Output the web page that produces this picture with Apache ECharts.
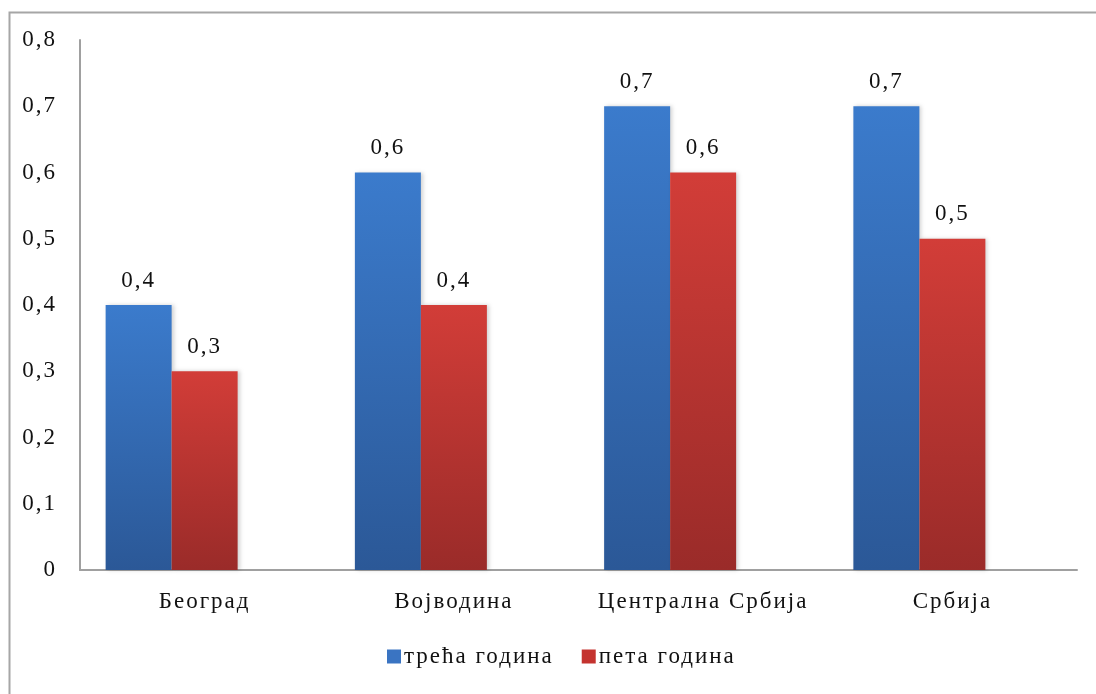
<!DOCTYPE html>
<html>
<head>
<meta charset="utf-8">
<script src="https://cdn.jsdelivr.net/npm/echarts@6/dist/echarts.min.js"></script>
<style>
html,body{margin:0;padding:0;background:#fff;}
#chart{width:1096px;height:694px;}
</style>
</head>
<body>
<div id="chart"></div>
<script>
const categories = ['Београд', 'Војводина', 'Централна Србија', 'Србија'];
const seriesNames = ['трећа година', 'пета година'];
const thirdYear = [0.4, 0.6, 0.7, 0.7];
const fifthYear = [0.3, 0.4, 0.6, 0.5];
const emptySeries = [null, null, null, null];
const yTicks = { min: 0, max: 0.8, interval: 0.1 };

// widen glyph spacing a little, like the reference rendering
(function () {
  const proto = CanvasRenderingContext2D.prototype;
  const desc = Object.getOwnPropertyDescriptor(proto, 'font');
  if (desc && desc.set && 'letterSpacing' in proto) {
    Object.defineProperty(proto, 'font', {
      configurable: true,
      get: desc.get,
      set: function (v) { desc.set.call(this, v); try { this.letterSpacing = '2px'; } catch (e) {} }
    });
  }
})();

const FONT = 'Liberation Serif';
const fmt = v => String(Math.round(v * 10) / 10).replace('.', ',');

function grad(top, bottom) {
  return new echarts.graphic.LinearGradient(0, 0, 0, 1, [
    { offset: 0, color: top },
    { offset: 1, color: bottom }
  ]);
}

const chart = echarts.init(document.getElementById('chart'));
const labelCfg = {
  show: true,
  position: 'top',
  distance: 12,
  fontFamily: FONT,
  fontSize: 23,
  color: '#111',
  formatter: p => fmt(p.value)
};
chart.setOption({
  animation: false,
  backgroundColor: '#fff',
  graphic: [{
    type: 'rect',
    shape: { x: 9.5, y: 12.5, width: 1300, height: 900 },
    style: { fill: 'none', stroke: '#a6a6a6', lineWidth: 2 },
    silent: true
  }],
  grid: { left: 80, right: 19, top: 40, bottom: 124 },
  legend: {
    data: seriesNames.map((n, i) => ({ name: n, itemStyle: { color: i === 0 ? '#3a74c2' : '#c4332f' } })),
    bottom: 20,
    left: 382,
    icon: 'rect',
    itemWidth: 14,
    itemHeight: 14,
    itemGap: 28,
    textStyle: { fontFamily: FONT, fontSize: 23, color: '#111', padding: [0, 0, 0, -2] }
  },
  xAxis: {
    type: 'category',
    data: categories,
    axisLine: { lineStyle: { color: '#a0a0a0', width: 2 } },
    axisTick: { show: false },
    axisLabel: { fontFamily: FONT, fontSize: 23, color: '#111', margin: 19, interval: 0 }
  },
  yAxis: {
    type: 'value',
    min: yTicks.min,
    max: yTicks.max,
    interval: yTicks.interval,
    axisLine: { show: true, lineStyle: { color: '#a0a0a0', width: 2 } },
    axisTick: { show: false },
    splitLine: { show: false },
    axisLabel: { fontFamily: FONT, fontSize: 23, color: '#111', margin: 23, formatter: v => fmt(v) }
  },
  series: [
    {
      name: seriesNames[0], type: 'bar', data: thirdYear, barWidth: 66, barGap: '0%',
      itemStyle: { color: grad('#3b7bcc', '#2b5897'), shadowColor: 'rgba(0,0,0,0.18)', shadowBlur: 4, shadowOffsetX: 2 },
      label: labelCfg
    },
    {
      name: seriesNames[1], type: 'bar', data: fifthYear, barWidth: 66, barGap: '0%',
      itemStyle: { color: grad('#d23d38', '#9a2b29'), shadowColor: 'rgba(0,0,0,0.18)', shadowBlur: 4, shadowOffsetX: 2 },
      label: labelCfg
    },
    {
      name: 'empty', type: 'bar', data: emptySeries, barWidth: 66, barGap: '0%',
      itemStyle: { color: '#9bbb59' }
    }
  ]
});
</script>
</body>
</html>
